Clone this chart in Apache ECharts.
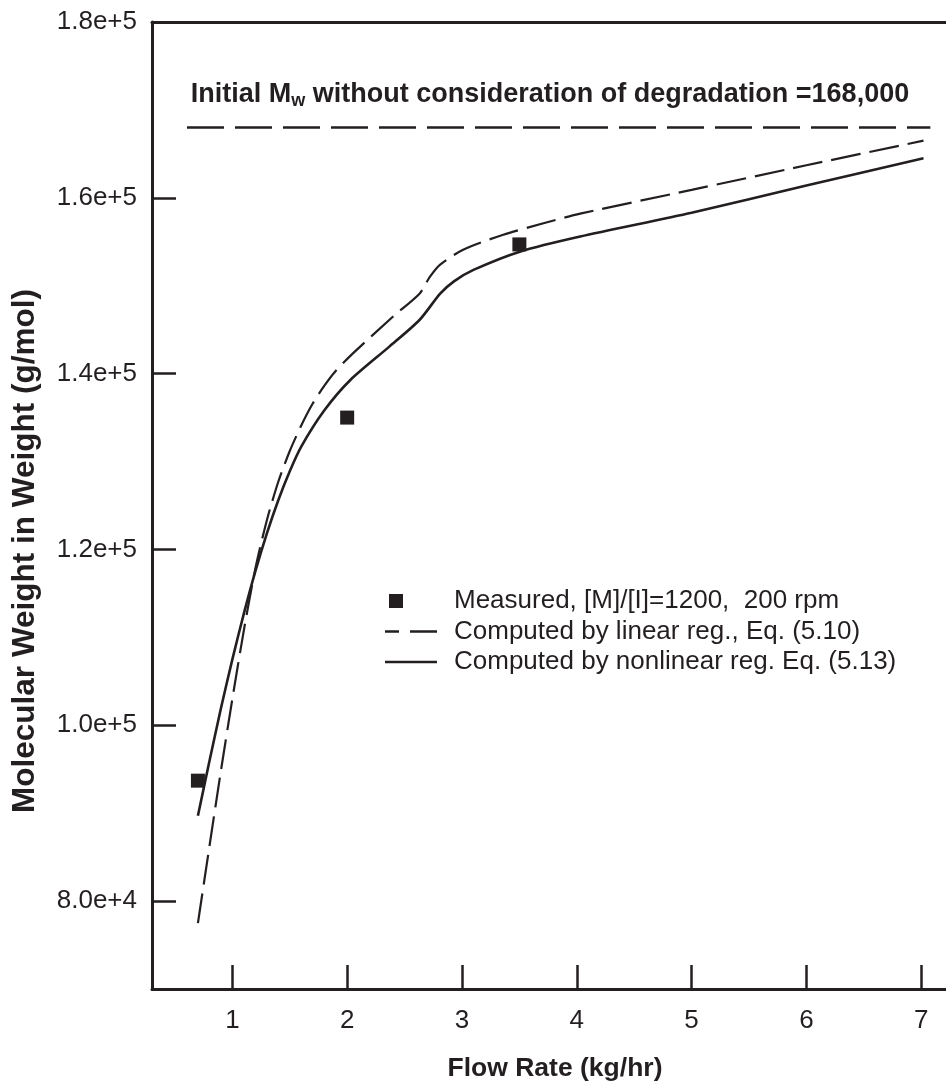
<!DOCTYPE html>
<html>
<head>
<meta charset="utf-8">
<script src="https://cdn.jsdelivr.net/npm/echarts@6/dist/echarts.min.js"></script>
<style>
  html, body { margin: 0; padding: 0; background: #ffffff; }
  #chart { width: 946px; height: 1081px; }
</style>
</head>
<body>
<div id="chart"></div>
<script>
// Measured molecular weight vs. flow rate
const measuredFlow = [0.7, 2.0, 3.5];
const measuredMw = [93700, 135000, 154700];

// Computed by linear regression, Eq. (5.10)
const linearFlow = [0.70, 0.80, 0.90, 1.00, 1.10, 1.20, 1.30, 1.40, 1.50, 1.60, 1.70, 1.80, 1.90, 2.05, 2.40, 2.63, 2.72, 2.81, 3.01, 3.36, 3.71, 4.03, 5.0, 6.0, 7.02];
const linearMw = [77500, 86200, 94800, 103000, 110800, 117800, 123300, 127700, 131200, 134100, 136600, 138600, 140300, 142300, 146500, 149100, 151000, 152400, 154100, 155800, 157100, 158200, 160900, 163700, 166500];

// Computed by nonlinear regression, Eq. (5.13)
const nonlinearFlow = [0.70, 0.80, 0.90, 1.00, 1.10, 1.20, 1.30, 1.40, 1.50, 1.60, 1.80, 2.03, 2.37, 2.63, 2.81, 2.93, 3.10, 3.51, 4.03, 5.0, 6.0, 7.02];
const nonlinearMw = [89700, 95900, 101900, 107500, 112700, 117500, 121800, 125600, 128900, 131700, 135800, 139300, 143100, 146100, 149100, 150500, 151800, 153900, 155600, 158300, 161400, 164500];

// Initial Mw without degradation
const initialMw = 168000;
const initialSpan = [0.605, 7.08];

const xTicks = [1, 2, 3, 4, 5, 6, 7];
const yTicks = [80000, 100000, 120000, 140000, 160000];
const yLabels = [80000, 100000, 120000, 140000, 160000, 180000];

const names = {
  measured: 'Measured, [M]/[I]=1200,  200 rpm',
  linear: 'Computed by linear reg., Eq. (5.10)',
  nonlinear: 'Computed by nonlinear reg. Eq. (5.13)'
};

const ink = '#231f20';
const font = '"Liberation Sans", Arial, Helvetica, sans-serif';

const zip = (xs, ys) => xs.map((x, i) => [x, ys[i]]);

// Legend swatches: a corner dot at each end fixes the 52x14 frame of the path
const frame = 'M0,0h0.01v0.01h-0.01zM52,13.99h0.01v0.01h-0.01z';
const iconSquare = 'path://' + frame + 'M4,0h14v14h-14z';
const iconDashed = 'path://' + frame + 'M0,5.8h14v2.4h-14zM25,5.8h27v2.4h-27z';
const iconSolid = 'path://' + frame + 'M0,5.7h52v2.6h-52z';

const chart = echarts.init(document.getElementById('chart'), null, { renderer: 'canvas' });

chart.setOption({
  animation: false,
  backgroundColor: '#ffffff',
  textStyle: { fontFamily: font, color: ink },
  grid: { left: 152, right: 0, top: 22, bottom: 92, containLabel: false, outerBoundsMode: 'none' },
  xAxis: [{
    type: 'value',
    min: 0.3,
    max: 7.216,
    name: 'Flow Rate (kg/hr)',
    nameLocation: 'middle',
    nameGap: 66,
    nameTextStyle: { fontFamily: font, fontSize: 26.5, fontWeight: 'bold', color: ink, padding: [0, 0, 0, 12] },
    axisLine: { show: true, onZero: false, lineStyle: { color: ink, width: 3 } },
    axisTick: { show: true, inside: true, length: 24, customValues: xTicks, lineStyle: { color: ink, width: 2.5 } },
    axisLabel: { customValues: xTicks, fontSize: 26, fontFamily: font, color: ink, margin: 19 },
    splitLine: { show: false }
  }, {
    type: 'value',
    position: 'top',
    min: 0.3,
    max: 7.216,
    axisLine: { show: true, lineStyle: { color: ink, width: 3 } },
    axisTick: { show: false },
    axisLabel: { show: false },
    splitLine: { show: false }
  }],
  yAxis: {
    type: 'value',
    min: 70000,
    max: 180000,
    axisLine: { show: true, onZero: false, lineStyle: { color: ink, width: 3 } },
    axisTick: { show: true, inside: true, length: 24, customValues: yTicks, lineStyle: { color: ink, width: 2.5 } },
    axisLabel: {
      customValues: yLabels,
      fontSize: 26,
      fontFamily: font,
      color: ink,
      margin: 15,
      formatter: v => Number(v).toExponential(1)
    },
    splitLine: { show: false }
  },
  legend: {
    orient: 'vertical',
    left: 380,
    top: 583,
    itemWidth: 52,
    itemHeight: 14,
    itemGap: 4.5,
    selectedMode: false,
    textStyle: { fontFamily: font, fontSize: 26, color: ink, lineHeight: 26, padding: [0, 0, 0, 12] },
    data: [
      { name: names.measured, icon: iconSquare },
      { name: names.linear, icon: iconDashed },
      { name: names.nonlinear, icon: iconSolid }
    ]
  },
  graphic: [{
    type: 'text',
    x: 25,
    y: 551,
    rotation: Math.PI / 2,
    style: {
      text: 'Molecular Weight in Weight (g/mol)',
      font: 'bold 31.5px ' + font,
      fill: ink,
      align: 'center',
      verticalAlign: 'middle'
    }
  }, {
    type: 'text',
    x: 550,
    y: 95,
    style: {
      text: '{b|Initial M}{s|w}{b| without consideration of degradation =168,000}',
      align: 'center',
      verticalAlign: 'middle',
      rich: {
        b: { font: 'bold 27px ' + font, fill: ink, lineHeight: 30 },
        s: { font: 'bold 18px ' + font, fill: ink, lineHeight: 30, verticalAlign: 'bottom', padding: [14, 0, 0, 0] }
      }
    }
  }],
  series: [{
    name: 'initial',
    type: 'line',
    data: initialSpan.map(x => [x, initialMw]),
    symbol: 'none',
    silent: true,
    lineStyle: { color: ink, width: 2.5, type: [37, 11] }
  }, {
    name: names.linear,
    type: 'line',
    data: zip(linearFlow, linearMw),
    symbol: 'none',
    smooth: 0.25,
    lineStyle: { color: ink, width: 2.2, type: [30, 9] },
    itemStyle: { color: ink }
  }, {
    name: names.nonlinear,
    type: 'line',
    data: zip(nonlinearFlow, nonlinearMw),
    symbol: 'none',
    smooth: 0.25,
    lineStyle: { color: ink, width: 2.6 },
    itemStyle: { color: ink }
  }, {
    name: names.measured,
    type: 'scatter',
    data: zip(measuredFlow, measuredMw),
    symbol: 'rect',
    symbolSize: 14,
    itemStyle: { color: ink, opacity: 1 },
    z: 5
  }]
});
</script>
</body>
</html>
